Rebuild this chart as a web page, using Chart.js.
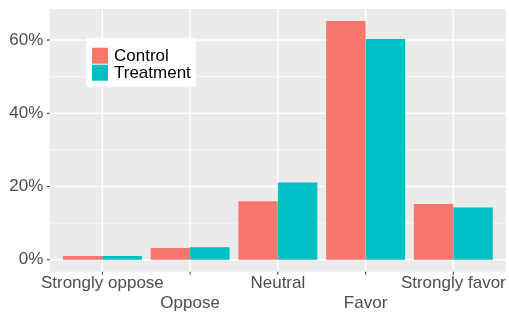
<!DOCTYPE html>
<html>
<head>
<meta charset="utf-8">
<script src="https://cdn.jsdelivr.net/npm/chart.js@4/dist/chart.umd.min.js"></script>
<style>
  html, body { margin: 0; padding: 0; background: #ffffff; }
  #wrap { width: 509px; height: 313px; }
</style>
</head>
<body>
<div id="wrap"><canvas id="c" width="509" height="313"></canvas></div>
<script>
const categories = ["Strongly oppose", "Oppose", "Neutral", "Favor", "Strongly favor"];
const controlValues = [1.0, 3.2, 16.0, 65.2, 15.2];
const treatmentValues = [1.0, 3.4, 21.1, 60.3, 14.3];
const seriesNames = ["Control", "Treatment"];
const yTickValues = [0, 20, 40, 60];
const yMinorValues = [10, 30, 50];

const FONT = "'Liberation Sans', Arial, sans-serif";
const colors = ["#F8766D", "#00BFC4"];

const panelPlugin = {
  id: 'panel',
  beforeDraw(chart) {
    const ctx = chart.ctx;
    const xs = chart.scales.x, ys = chart.scales.y;
    const area = chart.chartArea;
    const s = xs.getPixelForValue(1) - xs.getPixelForValue(0);
    const left = xs.getPixelForValue(0) - 0.6 * s;
    const right = xs.getPixelForValue(categories.length - 1) + 0.6 * s;
    ctx.save();
    ctx.fillStyle = '#EBEBEB';
    ctx.fillRect(left, area.top, right - left, area.bottom - area.top);
    ctx.strokeStyle = '#FFFFFF';
    ctx.lineWidth = 0.7;
    yMinorValues.forEach(v => {
      const y = ys.getPixelForValue(v);
      ctx.beginPath(); ctx.moveTo(left, y); ctx.lineTo(right, y); ctx.stroke();
    });
    ctx.lineWidth = 1.4;
    yTickValues.forEach(v => {
      const y = ys.getPixelForValue(v);
      ctx.beginPath(); ctx.moveTo(left, y); ctx.lineTo(right, y); ctx.stroke();
    });
    categories.forEach((c, i) => {
      const x = xs.getPixelForValue(i);
      ctx.beginPath(); ctx.moveTo(x, area.top); ctx.lineTo(x, area.bottom); ctx.stroke();
    });
    ctx.restore();
    chart.$panel = {left, right};
  },
  afterDraw(chart) {
    const ctx = chart.ctx;
    const xs = chart.scales.x, ys = chart.scales.y;
    const area = chart.chartArea;
    const {left} = chart.$panel;
    ctx.save();
    ctx.strokeStyle = '#333333';
    ctx.lineWidth = 1;
    categories.forEach((c, i) => {
      const x = xs.getPixelForValue(i);
      ctx.beginPath(); ctx.moveTo(x, area.bottom); ctx.lineTo(x, area.bottom + 3); ctx.stroke();
    });
    yTickValues.forEach(v => {
      const y = ys.getPixelForValue(v);
      ctx.beginPath(); ctx.moveTo(left - 3, y); ctx.lineTo(left, y); ctx.stroke();
    });
    // legend
    const bx = 86, by = 37.7, bw = 110, bh = 49;
    ctx.fillStyle = '#FFFFFF';
    ctx.fillRect(bx, by, bw, bh);
    ctx.font = '17px ' + FONT;
    ctx.textBaseline = 'middle';
    ctx.textAlign = 'left';
    chart.data.datasets.forEach((ds, i) => {
      const ky = 47.7 + i * 17;
      ctx.fillStyle = ds.backgroundColor;
      ctx.fillRect(92, ky, 16, 16);
      ctx.fillStyle = '#000000';
      ctx.fillText(ds.label, 114, ky + 8.5);
    });
    ctx.restore();
  }
};

new Chart(document.getElementById('c'), {
  type: 'bar',
  data: {
    labels: categories,
    datasets: [
      { label: seriesNames[0], data: controlValues, backgroundColor: colors[0] },
      { label: seriesNames[1], data: treatmentValues, backgroundColor: colors[1] }
    ]
  },
  options: {
    responsive: false,
    animation: false,
    devicePixelRatio: 1,
    layout: { padding: { left: 0, right: 11.8, top: 9, bottom: 0 } },
    plugins: { legend: { display: false }, tooltip: { enabled: false } },
    datasets: { bar: { categoryPercentage: 0.9, barPercentage: 1.0, borderWidth: 0 } },
    scales: {
      x: {
        type: 'category',
        offset: true,
        grid: { display: false, drawTicks: false, tickLength: 0 },
        border: { display: false },
        afterFit(scale) { scale.height = 41.3; scale.paddingLeft = 0; scale.paddingRight = 0; },
        ticks: {
          autoSkip: false,
          maxRotation: 0,
          minRotation: 0,
          padding: 1,
          color: '#4D4D4D',
          font: { family: FONT, size: 17, lineHeight: 1.2 },
          callback(val, idx) {
            const lab = categories[idx];
            return idx % 2 ? ['', lab] : lab;
          }
        }
      },
      y: {
        min: -3.26,
        max: 68.46,
        grid: { display: false, drawTicks: false, tickLength: 0 },
        border: { display: false },
        afterFit(scale) { scale.width = 58.5; scale.paddingTop = 0; scale.paddingBottom = 0; },
        afterBuildTicks(scale) { scale.ticks = yTickValues.map(v => ({ value: v })); },
        ticks: {
          padding: 15.2,
          color: '#4D4D4D',
          font: { family: FONT, size: 17 },
          callback(v) { return v + '%'; }
        }
      }
    }
  },
  plugins: [panelPlugin]
});
</script>
</body>
</html>
